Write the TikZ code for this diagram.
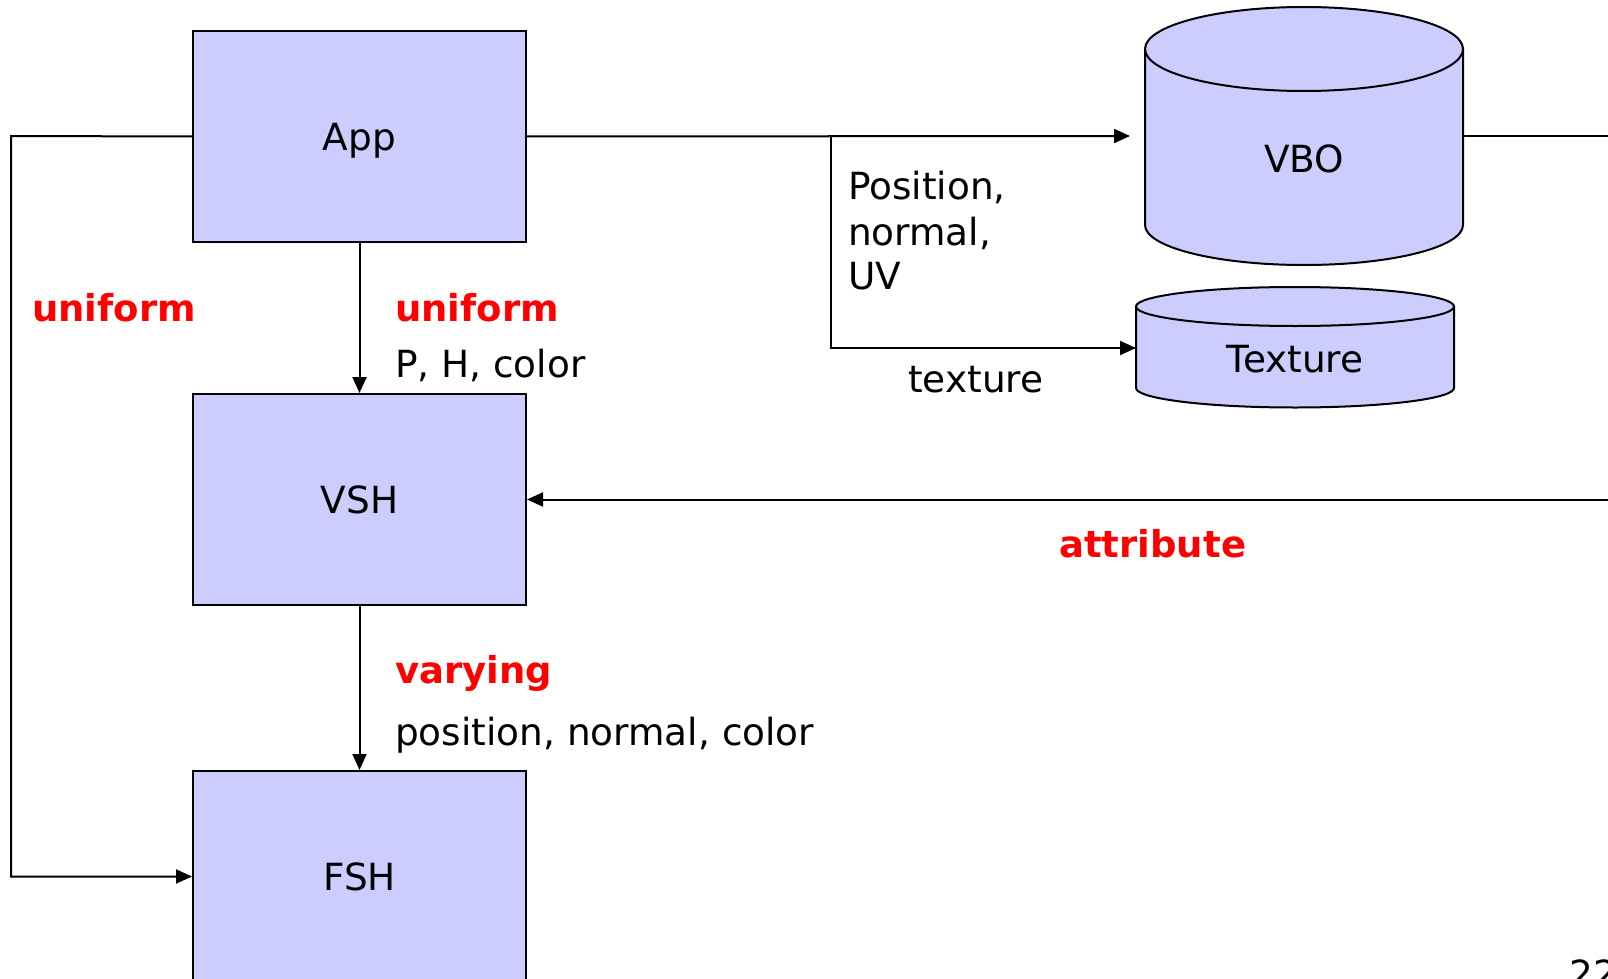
\documentclass[tikz,border=0pt]{standalone}
\usepackage{fontspec}
\setmainfont{DejaVu Sans}
\usetikzlibrary{arrows.meta, positioning}
\definecolor{boxfill}{HTML}{CCCCFF}

\begin{document}
\begin{tikzpicture}[
    x=1pt, y=-1pt,
    font=\fontsize{37.4}{45}\selectfont,
    stage/.style={draw, line width=2pt, rectangle, minimum width=333pt, minimum height=211pt, fill=boxfill, text height=27pt, text depth=0pt},
    tank/.style={rectangle, inner sep=0pt, text height=27pt, text depth=0pt},
    store/.style={fill=boxfill, draw, line width=2pt},
    keyword/.style={text=red, font=\fontsize{37}{45}\selectfont\bfseries, inner sep=0pt, anchor=base west},
    note/.style={inner sep=0pt, anchor=base west},
    flow/.style={line width=2pt, -{Triangle[length=16pt,width=14pt]}},
    wire/.style={line width=2pt}
]
\useasboundingbox (0,0) rectangle (1608,979);
\clip (0,0) rectangle (1608,979);

% Shader stages
\node[stage] (app) at (359.5,136.5) {App};
\node[stage] (vsh) at (359.5,499.5) {VSH};
\node[stage] (fsh) at (359.5,876.5) {FSH};

% Buffers
\filldraw[store] (1145,49) -- (1145,225) arc[start angle=180, end angle=360, x radius=159pt, y radius=40pt] -- (1463,49) -- cycle;
\filldraw[store] (1304,49) ellipse [x radius=159pt, y radius=42pt];
\node[tank] (vbo) at (1304,159) {VBO};

\filldraw[store] (1136,306.5) -- (1136,388) arc[start angle=180, end angle=360, x radius=159pt, y radius=19.5pt] -- (1454,306.5) -- cycle;
\filldraw[store] (1295,306.5) ellipse [x radius=159pt, y radius=19.5pt];
\node[tank] (tex) at (1295,359) {Texture};

% Connector ends
\coordinate (lft) at (11,136);
\coordinate (split) at (831,136);
\coordinate (vboin) at (1130,136);
\coordinate (texin) at (1136,348);
\coordinate (vboout) at (1463,136);
\coordinate (offtop) at (1612,136);
\coordinate (offmid) at (1612,499.5);

% Arrows
\draw[flow] (app) -- (vsh);
\draw[flow] (vsh) -- (fsh);
\draw[flow] (app.west) -- (lft) |- (fsh.west);
\draw[flow] (app.east) -- (vboin);
\draw[flow] (split) |- (texin);
\draw[wire] (vboout) -- (offtop);
\draw[flow] (offmid) -- (vsh.east);

% Labels
\node[keyword] (uniL) at (32,321) {uniform};
\node[keyword] (uniR) at (395,321) {uniform};
\node[note] (phc) at (395,377) {P, H, color};
\node[note] (pos1) at (848,199) {Position,};
\node[note] (pos2) at (848,245) {normal,};
\node[note] (pos3) at (848,289) {UV};
\node[note] (texlbl) at (908,392) {texture};
\node[keyword] (attr) at (1059,557) {attribute};
\node[keyword] (vary) at (395,683) {varying};
\node[note] (pnc) at (395,745) {position, normal, color};
\node[note] (page) at (1569,987) {22};

\end{tikzpicture}
\end{document}
